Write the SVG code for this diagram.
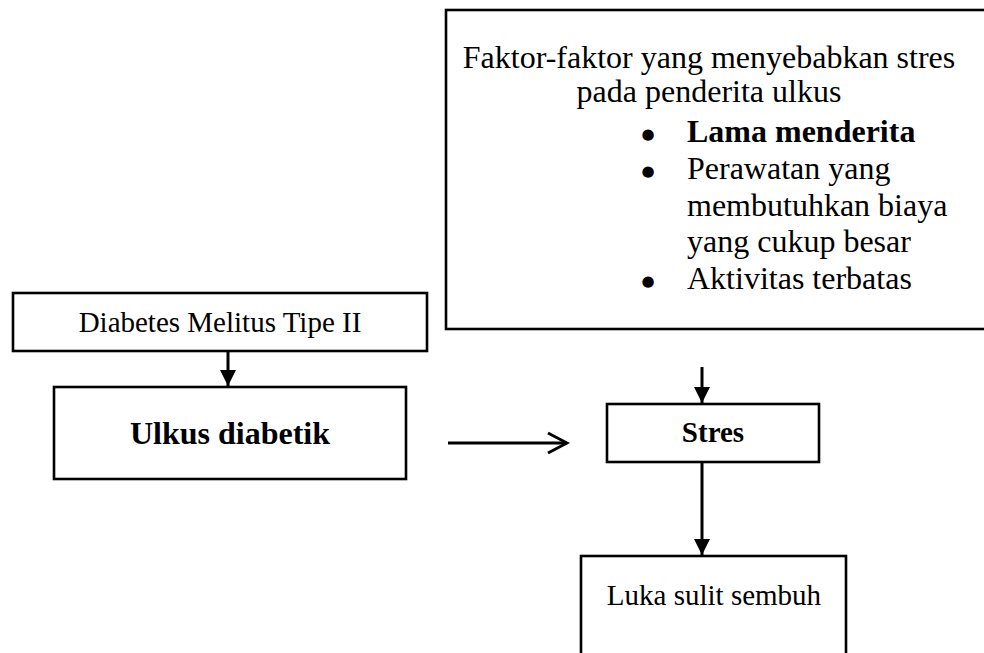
<svg xmlns="http://www.w3.org/2000/svg" width="984" height="653" viewBox="0 0 984 653">
<style>
.box{fill:#fff;stroke:#000;stroke-width:2.6}
.t{font-family:"Liberation Serif","Times New Roman",serif;fill:#000}
.b{font-weight:bold}
.bul{font-family:"DejaVu Sans",sans-serif;fill:#000;font-size:15px;text-anchor:middle}
.ln{stroke:#000;stroke-width:3;fill:none}
</style>
<defs>
<marker id="tri" markerUnits="userSpaceOnUse" markerWidth="16" markerHeight="18" refX="16" refY="8" orient="auto" viewBox="0 0 16 16">
<path d="M0,0 L16,8 L0,16 z" fill="#000"/>
</marker>
<marker id="chev" markerUnits="userSpaceOnUse" markerWidth="24" markerHeight="24" refX="21" refY="12" orient="auto" viewBox="0 0 24 24">
<path d="M2,2 L21,12 L2,22" fill="none" stroke="#000" stroke-width="3"/>
</marker>
</defs>
<rect width="984" height="653" fill="#fff"/>
<g id="faktor">
<rect class="box" x="446" y="10" width="560" height="319"/>
<text class="t" font-size="32" x="709" y="68" text-anchor="middle">Faktor-faktor yang menyebabkan stres</text>
<text class="t" font-size="32" x="709" y="102" text-anchor="middle">pada penderita ulkus</text>
<text class="bul" x="648" y="139">●</text>
<text class="t b" font-size="32" x="687" y="142">Lama menderita</text>
<text class="bul" x="648" y="176">●</text>
<text class="t" font-size="32" x="687" y="179">Perawatan yang</text>
<text class="t" font-size="32" x="687" y="216">membutuhkan biaya</text>
<text class="t" font-size="32" x="687" y="252">yang cukup besar</text>
<text class="bul" x="648" y="286">●</text>
<text class="t" font-size="32" x="687" y="289">Aktivitas terbatas</text>
</g>
<g id="dm">
<rect class="box" x="13" y="293" width="414" height="58"/>
<text class="t" font-size="29" x="220" y="332" text-anchor="middle">Diabetes Melitus Tipe II</text>
</g>
<g id="ulkus">
<rect class="box" x="54" y="387" width="352" height="92"/>
<text class="t b" font-size="32" x="230" y="444" text-anchor="middle">Ulkus diabetik</text>
</g>
<g id="stres">
<rect class="box" x="607" y="404" width="212" height="58"/>
<text class="t b" font-size="29" x="713" y="442" text-anchor="middle">Stres</text>
</g>
<g id="luka">
<rect class="box" x="581" y="556" width="265" height="110"/>
<text class="t" font-size="29" x="714" y="605" text-anchor="middle">Luka sulit sembuh</text>
</g>
<g id="connectors">
<line class="ln" x1="228" y1="351" x2="228" y2="386" marker-end="url(#tri)"/>
<line class="ln" x1="702" y1="367" x2="702" y2="403" marker-end="url(#tri)"/>
<line class="ln" x1="702" y1="462" x2="702" y2="555" marker-end="url(#tri)"/>
<line class="ln" x1="448" y1="443" x2="567" y2="443" marker-end="url(#chev)"/>
</g>
</svg>
